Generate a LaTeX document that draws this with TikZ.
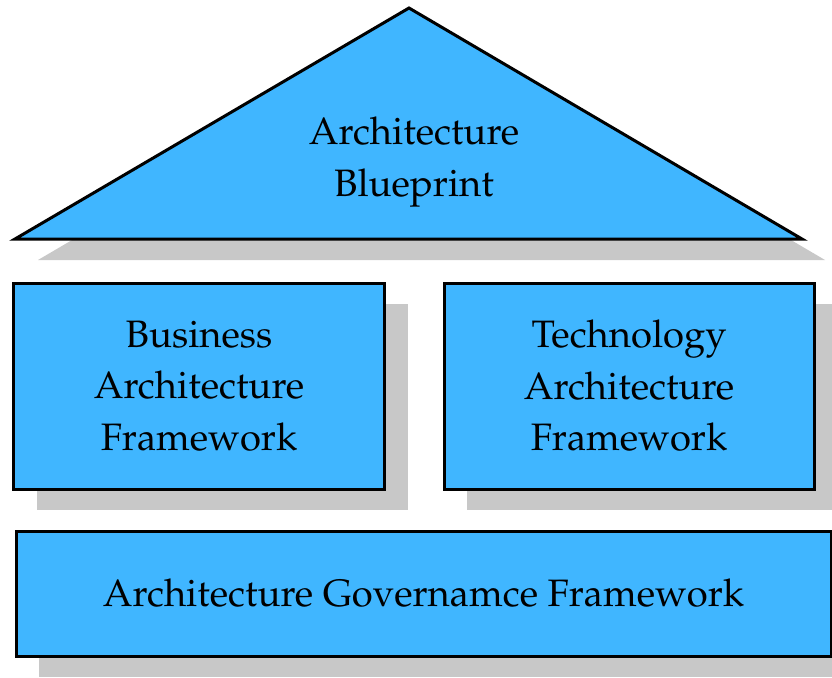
\documentclass[tikz,border=0pt]{standalone}
\usepackage[T1]{fontenc}
\usepackage{mathpazo}
\usetikzlibrary{shadows}

\definecolor{skyblue}{RGB}{64,182,255}
\definecolor{shadowgray}{RGB}{200,200,200}
\def\shx{23pt}
\def\shy{-21pt}

\tikzset{
  layer/.style={draw, line width=3pt, fill=skyblue,
    general shadow={fill=shadowgray, shadow xshift=\shx, shadow yshift=\shy}},
  block/.style={layer, align=center, inner sep=0pt},
  label/.style={align=center, inner sep=0pt}
}

\begin{document}
\begin{tikzpicture}[x=1pt, y=-1pt, font=\fontsize{38.2}{51.5}\selectfont]
\useasboundingbox (0,0) rectangle (832,677);

%% roof
\draw[layer, line join=miter] (15,239) -- (409,8) -- (802,239) -- cycle;
\node[label] (blueprint) at (414,162) {Architecture\\Blueprint};

% two pillars
\node[block, minimum width=371pt, minimum height=206pt] (business) at (199,386)
  {Business\\Architecture\\Framework};
\node[block, minimum width=370pt, minimum height=206pt] (technology) at (629,386)
  {Technology\\Architecture\\Framework};

% foundation
\node[block, minimum width=815pt, minimum height=125pt] (governance) at (423.5,593.5)
  {Architecture Governamce Framework};

\end{tikzpicture}
\end{document}
